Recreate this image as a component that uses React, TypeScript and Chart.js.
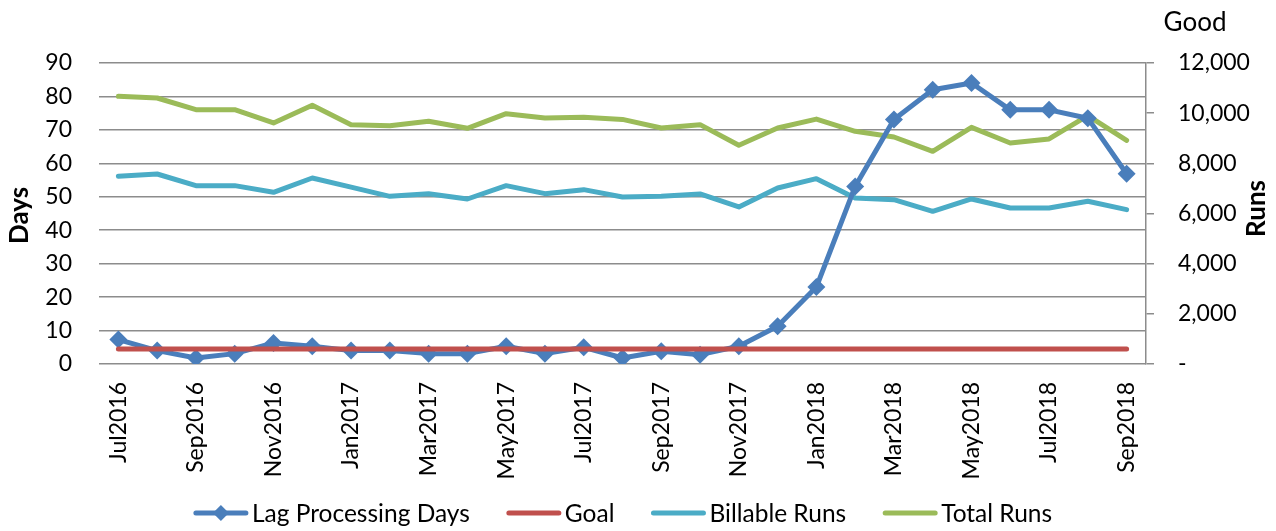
import React, { useEffect, useRef } from 'react';
import { Chart, registerables } from 'chart.js';

Chart.register(...registerables);

// ---------- data ----------
const months = [
  'Jul2016', 'Aug2016', 'Sep2016', 'Oct2016', 'Nov2016', 'Dec2016',
  'Jan2017', 'Feb2017', 'Mar2017', 'Apr2017', 'May2017', 'Jun2017',
  'Jul2017', 'Aug2017', 'Sep2017', 'Oct2017', 'Nov2017', 'Dec2017',
  'Jan2018', 'Feb2018', 'Mar2018', 'Apr2018', 'May2018', 'Jun2018',
  'Jul2018', 'Aug2018', 'Sep2018',
];

const lagProcessingDays = [
  7.3, 4, 1.8, 3.1, 6.3, 5.3,
  4, 4, 3.1, 3.1, 5.3, 3.1,
  5, 1.8, 3.8, 2.8, 5.3, 11.3,
  23, 53.1, 73.1, 82, 84, 76,
  76, 73.5, 56.9,
];

const goalDays = [
  4.5, 4.5, 4.5, 4.5, 4.5, 4.5,
  4.5, 4.5, 4.5, 4.5, 4.5, 4.5,
  4.5, 4.5, 4.5, 4.5, 4.5, 4.5,
  4.5, 4.5, 4.5, 4.5, 4.5, 4.5,
  4.5, 4.5, 4.5,
];

const billableRuns = [
  7482, 7575, 7110, 7110, 6844, 7416,
  7050, 6685, 6791, 6578, 7110, 6791,
  6951, 6658, 6685, 6778, 6260, 7017,
  7389, 6618, 6552, 6087, 6579, 6220,
  6220, 6486, 6153,
];

const totalRuns = [
  10672, 10605, 10140, 10140, 9609, 10313,
  9542, 9502, 9675, 9396, 9981, 9808,
  9835, 9751, 9409, 9542, 8718, 9409,
  9764, 9276, 9050, 8479, 9436, 8811,
  8971, 9900, 8918,
];

const seriesNames = ['Lag Processing Days', 'Goal', 'Billable Runs', 'Total Runs'];
const seriesColors = ['#4A7EBB', '#C0504D', '#4BACC6', '#9BBB59'];

const daysAxis = { min: 0, max: 90, step: 10, title: 'Days' };
const runsAxis = { min: 0, max: 12000, step: 2000, title: 'Runs' };
const cornerTitle = 'Good';

// ---------- styles ----------
const W = 1276;
const H = 531;
const FONT = 'Lato';
const GRID = '#8c8c8c';
const TICK_SIZE = 23;
const LEGEND_SIZE = 24.5;

const extrasPlugin = {
  id: 'extras',
  afterDraw(chart: any) {
    const ctx: CanvasRenderingContext2D = chart.ctx;
    const area = chart.chartArea;
    const midY = (area.top + area.bottom) / 2;
    ctx.save();
    ctx.fillStyle = '#000';
    ctx.textAlign = 'center';
    ctx.textBaseline = 'middle';

    // corner title
    ctx.font = `26px ${FONT}`;
    ctx.fillText(cornerTitle, 1195, 23);

    // axis titles
    ctx.font = `bold 26px ${FONT}`;
    ctx.save();
    ctx.translate(20, midY + 2);
    ctx.rotate(-Math.PI / 2);
    ctx.fillText(daysAxis.title, 0, 0);
    ctx.restore();
    ctx.save();
    ctx.translate(1257, midY - 5);
    ctx.rotate(-Math.PI / 2);
    ctx.fillText(runsAxis.title, 0, 0);
    ctx.restore();

    // legend
    ctx.font = `${LEGEND_SIZE}px ${FONT}`;
    const lineLen = 56;
    const gapText = 3;
    const gapItem = 36;
    const ds = chart.data.datasets;
    const widths = ds.map((d: any) => lineLen + gapText + ctx.measureText(d.label).width);
    const total = widths.reduce((a: number, b: number) => a + b, 0) + gapItem * (ds.length - 1);
    let x = (area.left + area.right) / 2 - total / 2;
    const y = 513;
    ds.forEach((d: any, i: number) => {
      ctx.strokeStyle = d.borderColor;
      ctx.lineWidth = 5;
      ctx.lineCap = 'round';
      ctx.beginPath();
      ctx.moveTo(x + 3, y);
      ctx.lineTo(x + lineLen - 3, y);
      ctx.stroke();
      if (d.pointRadius && d.pointRadius > 0) {
        const cx = x + lineLen / 2;
        const r = 8;
        ctx.fillStyle = d.borderColor;
        ctx.beginPath();
        ctx.moveTo(cx, y - r);
        ctx.lineTo(cx + r, y);
        ctx.lineTo(cx, y + r);
        ctx.lineTo(cx - r, y);
        ctx.closePath();
        ctx.fill();
      }
      ctx.fillStyle = '#000';
      ctx.textAlign = 'left';
      ctx.fillText(d.label, x + lineLen + gapText, y + 1);
      x += widths[i] + gapItem;
    });
    ctx.restore();
  },
};

export default function App() {
  const canvasRef = useRef<HTMLCanvasElement | null>(null);

  useEffect(() => {
    let chart: Chart | null = null;
    let cancelled = false;
    document.body.style.margin = '0';

    const build = () => {
      if (cancelled || !canvasRef.current) return;
      Chart.defaults.font.family = FONT;
      Chart.defaults.color = '#000';
      const lineCommon = {
        borderWidth: 5,
        borderCapStyle: 'round' as const,
        borderJoinStyle: 'round' as const,
        tension: 0,
        fill: false,
      };
      chart = new Chart(canvasRef.current, {
        type: 'line',
        data: {
          labels: months,
          datasets: [
            {
              ...lineCommon,
              label: seriesNames[0],
              data: lagProcessingDays,
              borderColor: seriesColors[0],
              backgroundColor: seriesColors[0],
              pointStyle: 'rectRot',
              pointRadius: 9,
              pointBorderWidth: 0,
              pointHoverRadius: 9,
              yAxisID: 'y',
              order: 1,
            },
            {
              ...lineCommon,
              label: seriesNames[1],
              data: goalDays,
              borderColor: seriesColors[1],
              backgroundColor: seriesColors[1],
              pointRadius: 0,
              yAxisID: 'y',
              order: 0,
            },
            {
              ...lineCommon,
              label: seriesNames[2],
              data: billableRuns,
              borderColor: seriesColors[2],
              backgroundColor: seriesColors[2],
              pointRadius: 0,
              yAxisID: 'y1',
              order: 2,
            },
            {
              ...lineCommon,
              label: seriesNames[3],
              data: totalRuns,
              borderColor: seriesColors[3],
              backgroundColor: seriesColors[3],
              pointRadius: 0,
              yAxisID: 'y1',
              order: 3,
            },
          ],
        },
        options: {
          responsive: false,
          animation: false,
          devicePixelRatio: 1,
          layout: { padding: { top: 63, left: 0, right: 0, bottom: 0 } },
          plugins: {
            legend: { display: false },
            tooltip: { enabled: false },
            title: { display: false },
          },
          scales: {
            x: {
              type: 'category',
              offset: true,
              grid: { display: false, drawTicks: false },
              border: { display: false },
              ticks: {
                autoSkip: false,
                minRotation: 90,
                maxRotation: 90,
                padding: 18,
                font: { size: TICK_SIZE, family: FONT },
                color: '#000',
                callback: (_v: any, i: number) => (i % 2 === 0 ? months[i] : ''),
              },
              afterFit: (s: any) => {
                s.height = 167;
              },
            },
            y: {
              position: 'left',
              min: daysAxis.min,
              max: daysAxis.max,
              ticks: {
                stepSize: daysAxis.step,
                padding: 27,
                font: { size: TICK_SIZE, family: FONT },
                color: '#000',
              },
              grid: { color: GRID, lineWidth: 1.5, drawTicks: false },
              border: { display: false },
              afterFit: (s: any) => {
                s.width = 99;
              },
            },
            y1: {
              position: 'right',
              min: runsAxis.min,
              max: runsAxis.max,
              ticks: {
                stepSize: runsAxis.step,
                padding: 24,
                font: { size: TICK_SIZE, family: FONT },
                color: '#000',
                callback: (v: any) => (Number(v) === 0 ? '-' : Number(v).toLocaleString('en-US')),
              },
              grid: {
                drawOnChartArea: false,
                drawTicks: true,
                tickLength: 8,
                color: GRID,
                lineWidth: 1.5,
              },
              border: { display: true, color: GRID, width: 1.5 },
              afterFit: (s: any) => {
                s.width = 130;
              },
            },
          },
        },
        plugins: [extrasPlugin],
      });
    };

    const fontsReady = (document as any).fonts
      ? Promise.all([
          (document as any).fonts.load(`22px ${FONT}`),
          (document as any).fonts.load(`bold 26px ${FONT}`),
        ]).catch(() => null)
      : Promise.resolve(null);
    fontsReady.then(build);

    return () => {
      cancelled = true;
      if (chart) chart.destroy();
      chart = null;
    };
  }, []);

  return (
    <div style={{ position: 'absolute', left: 0, top: 0, width: W, height: H, background: '#fff' }}>
      <canvas ref={canvasRef} width={W} height={H} style={{ display: 'block', width: W, height: H }} />
    </div>
  );
}
